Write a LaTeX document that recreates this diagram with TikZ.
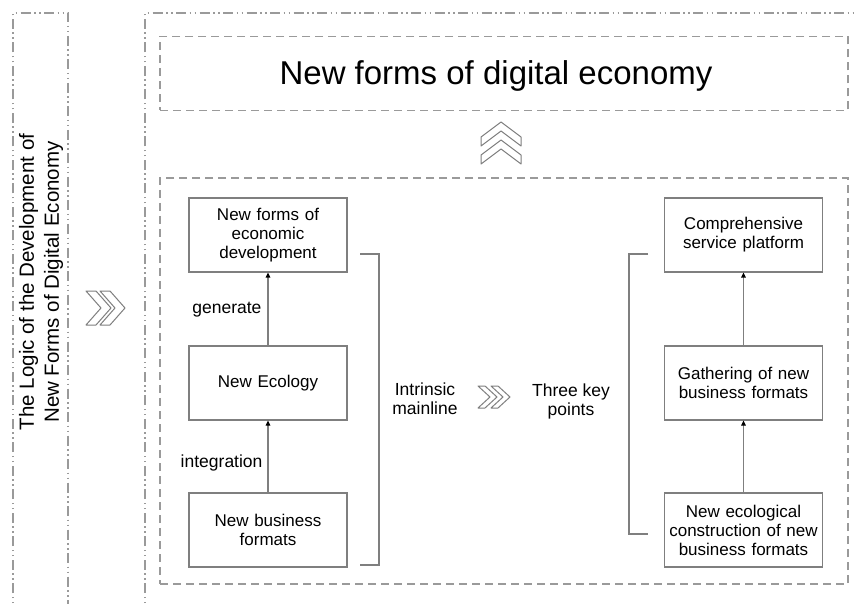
\documentclass[tikz,border=0pt]{standalone}
\usepackage{fontspec}
\setmainfont{Liberation Sans}
\usetikzlibrary{arrows.meta}
\definecolor{boxgray}{HTML}{7F7F7F}
\definecolor{dashgray}{HTML}{9A9A9A}
\newcommand\chevR[5]{% x0, yc, w, h, t
 \draw[chev] ({#1},{#2-#4}) -- ({#1+#5},{#2-#4}) -- ({#1+#3},{#2}) -- ({#1+#5},{#2+#4}) -- ({#1},{#2+#4}) -- ({#1+#3-#5},{#2}) -- cycle;}
\newcommand\chevU[5]{% xc, y0, w, h, t
 \draw[chev] ({#1-#4},{#2+#3}) -- ({#1-#4},{#2+#3-#5}) -- ({#1},{#2}) -- ({#1+#4},{#2+#3-#5}) -- ({#1+#4},{#2+#3}) -- ({#1},{#2+#5}) -- cycle;}
\begin{document}
\begin{tikzpicture}[x=1pt,y=-1pt,
  stage/.style={draw=boxgray, line width=1.2pt, minimum width=158pt, minimum height=74pt, align=center, font=\fontsize{17}{19}\selectfont, inner sep=2pt, text width=154pt},
  flow/.style={draw=boxgray, line width=1.2pt, -{Triangle[length=5pt,width=4.5pt,black]}},
  note/.style={font=\fontsize{17.5}{19}\selectfont, align=center},
  frame/.style={draw=dashgray, line width=1.3pt, dash pattern=on 10pt off 3.5pt on 1.5pt off 3.5pt on 1.5pt off 3.5pt},
  dashbox/.style={draw=dashgray, line width=1.5pt, dash pattern=on 8pt off 5pt},
  chev/.style={draw=boxgray, line width=1pt, line join=round, fill=white},
  bracket/.style={draw=boxgray, line width=1.2pt}
]
\useasboundingbox (0,0) rectangle (857,604);
\clip (0,0) rectangle (857,604);
\fill[white] (0,0) rectangle (857,604);
% outer frames
\draw[frame] (13,640) -- (13,13) -- (68,13) -- (68,640);
\draw[frame] (145,640) -- (145,13) -- (900,13);
% vertical title
\node[rotate=90, align=center, font=\fontsize{20.5}{25}\selectfont] (logic) at (41,282) {The Logic of the Development of\\New Forms of Digital Economy};
\chevR{86}{308}{25}{17}{10}
\chevR{100}{308}{25}{17}{10}
% top box
\node[dashbox, minimum width=688pt, minimum height=74pt] (topbox) at (504,73.5) {};
\node[font=\fontsize{33}{36}\selectfont, anchor=base] (title) at (496,85) {New forms of digital economy};
\chevU{501}{122}{24}{20}{9}
\chevU{501}{140}{24}{20}{9}
% inner box
\node[dashbox, minimum width=688pt, minimum height=406pt] (inner) at (504,381) {};
% left column
\node[stage] (a1) at (268,235) {New forms of\\economic\\development};
\node[stage] (a2) at (268,383) {New Ecology};
\node[stage] (a3) at (268,530) {New business\\formats};
\draw[flow] (a2) -- (a1);
\draw[flow] (a3) -- (a2);
\node[note, anchor=east] (gen) at (265,310) {generate};
\node[note, anchor=east] (integ) at (266,463) {integration};
% right column
\node[stage] (b1) at (743.5,235) {Comprehensive\\service platform};
\node[stage] (b2) at (743.5,383) {Gathering of new\\business formats};
\node[stage] (b3) at (743.5,530) {New ecological\\construction of new\\business formats};
\draw[flow] (b2) -- (b1);
\draw[flow] (b3) -- (b2);
% brackets
\draw[bracket] (360,254) -- (379,254) -- (379,565) -- (360,565);
\draw[bracket] (648,254) -- (629,254) -- (629,534) -- (648,534);
% middle
\node[note] (mainline) at (425,399) {Intrinsic\\mainline};
\chevR{478}{397}{19}{11}{7}
\chevR{491}{397}{19}{11}{7}
\node[note] (keys) at (571,401) {Three key\\points};
\end{tikzpicture}
\end{document}
